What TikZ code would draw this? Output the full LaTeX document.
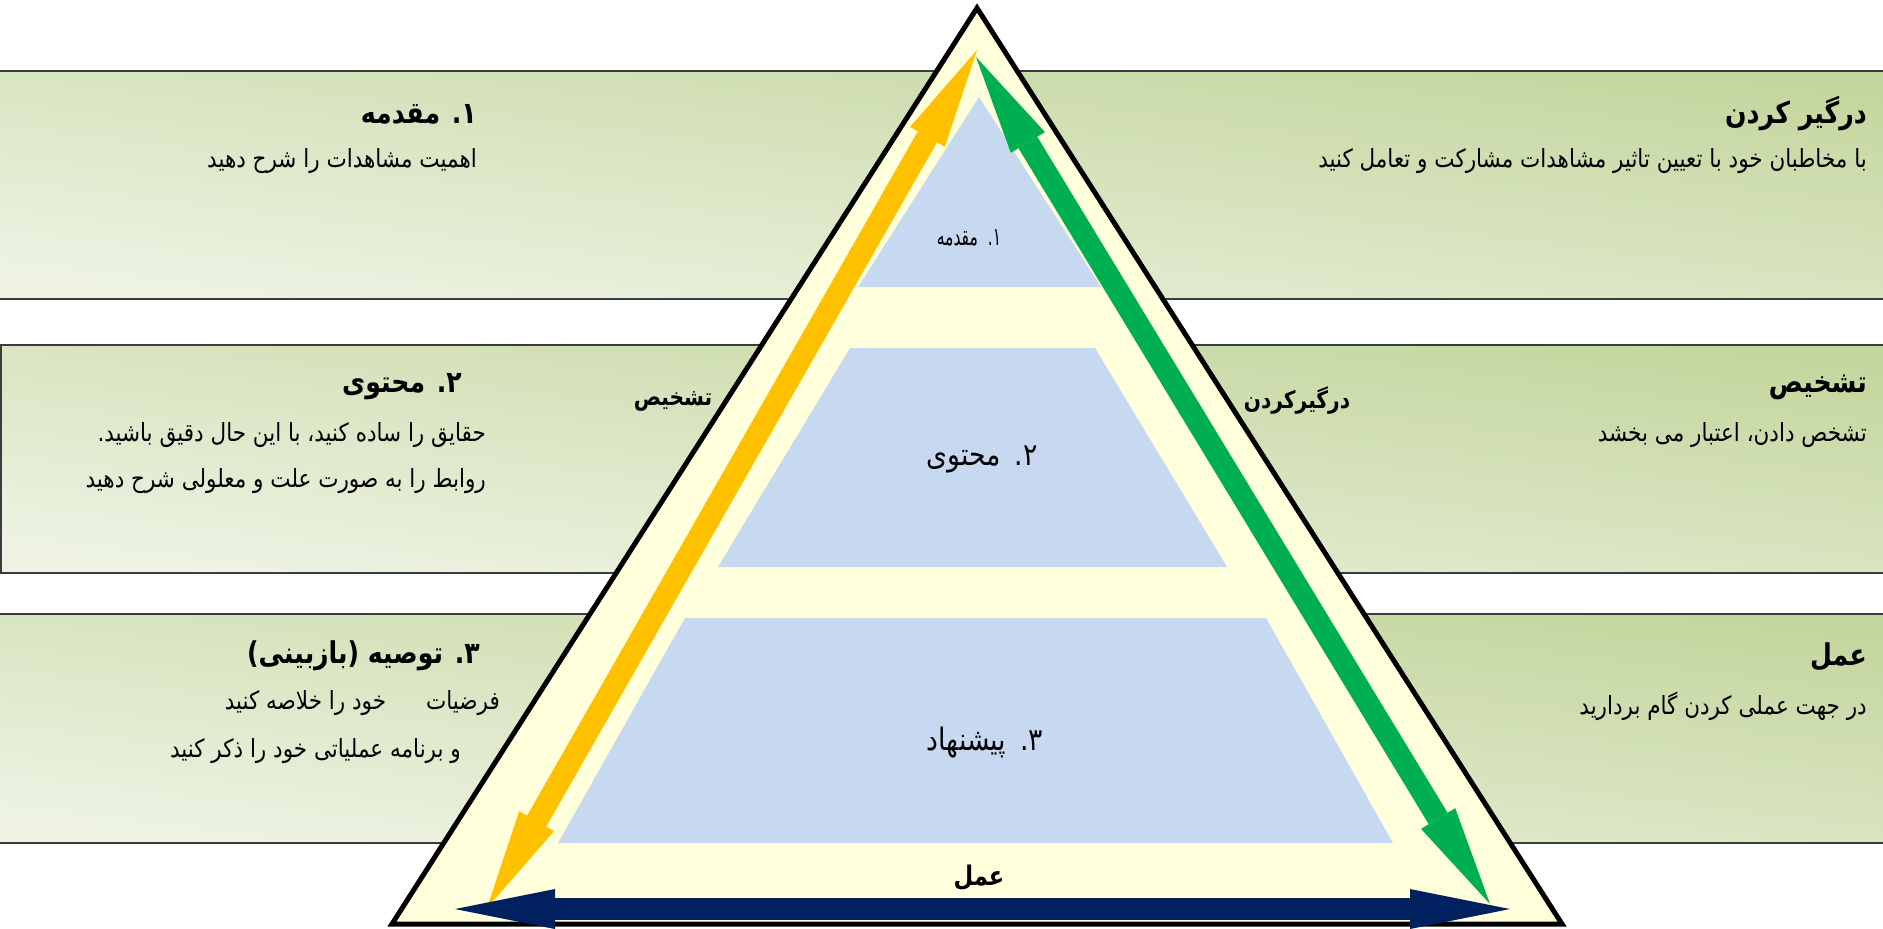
\documentclass[tikz,border=0pt]{standalone}
\usepackage{fontspec}
\usetikzlibrary{arrows.meta, positioning}
\TeXXeTstate=1
\newfontfamily\persianfont[Script=Arabic, FakeStretch=0.86]{DejaVu Sans}
\newfontfamily\persiantitle[Script=Arabic, FakeStretch=0.84]{DejaVu Sans Bold}
\newfontfamily\persiannarrow[Script=Arabic, FakeStretch=0.62]{DejaVu Sans}

\definecolor{rowdark}{RGB}{196,214,158}
\definecolor{rowlight}{RGB}{238,243,228}
\definecolor{rowline}{RGB}{60,60,60}
\definecolor{pyramidfill}{RGB}{255,255,220}
\definecolor{levelblue}{RGB}{198,217,240}
\definecolor{arrowyellow}{RGB}{255,192,0}
\definecolor{arrowgreen}{RGB}{0,176,80}
\definecolor{arrownavy}{RGB}{0,32,96}

\tikzstyle{band} = [draw=rowline, line width=1.5pt, top color=rowdark, bottom color=rowlight, shading angle=-7]
\tikzstyle{pyramid} = [draw=black, line width=5pt, fill=pyramidfill]
\tikzstyle{level} = [fill=levelblue]
\tikzstyle{title} = [anchor=east, inner sep=0pt, font=\persiantitle\fontsize{30}{34}\selectfont]
\tikzstyle{body} = [anchor=east, inner sep=0pt, font=\persianfont\fontsize{25}{29}\selectfont]
\tikzstyle{sidelabel} = [inner sep=0pt, font=\persiantitle\fontsize{24}{28}\selectfont]
\tikzstyle{levellabel} = [inner sep=0pt, font=\persianfont\fontsize{31}{35}\selectfont]
\tikzstyle{dblarrow} = [line width=22pt, <->, >={Triangle[length=100pt, width=40pt, line width=0pt]}]

\begin{document}
\begin{tikzpicture}[x=1pt, y=-1pt]
\useasboundingbox (0,0) rectangle (1883,929);

% Bands
\path[band] (-4,71) rectangle (1888,299);
\path[band] (1,345) rectangle (1888,573);
\path[band] (-4,614) rectangle (1888,843);

% Pyramid
\path[pyramid] (977,8) -- (1562,924) -- (392,924) -- cycle;

% Levels
\path[level] (979,97) -- (1101,287) -- (858,287) -- cycle;
\path[level] (850,348) -- (1095,348) -- (1227,567) -- (718,567) -- cycle;
\path[level] (685,618) -- (1266,618) -- (1393,843) -- (558,843) -- cycle;

% Arrow ends
\coordinate (ybot) at (487,908);
\coordinate (ytop) at (977,50);
\coordinate (gtop) at (976,57);
\coordinate (gbot) at (1490,904);
\coordinate (nleft) at (455,909);
\coordinate (nright) at (1510,909);

% Arrows
\draw [dblarrow, arrowyellow] (ybot) -- (ytop);
\draw [dblarrow, arrowgreen] (gtop) -- (gbot);
\draw [dblarrow, arrownavy] (nleft) -- (nright);

% Level labels
\node (lev1) [levellabel, font=\persiannarrow\fontsize{25}{29}\selectfont] at (969,238) {\beginR ۱.\hspace{10pt}مقدمه\endR};
\node (lev2) [levellabel] at (982,459) {\beginR ۲.\hspace{14pt}محتوی\endR};
\node (lev3) [levellabel] at (985,742) {\beginR ۳.\hspace{14pt}پیشنهاد\endR};
\node (act) [sidelabel, font=\persiantitle\fontsize{27}{31}\selectfont] at (979,878) {\beginR عمل\endR};

% Side labels
\node (diag) [sidelabel] at (673,401) {\beginR تشخیص\endR};
\node (engage) [sidelabel] at (1297,401) {\beginR درگیرکردن\endR};

% Left texts
\node (t1l) [title] at (477,114) {\beginR ۱. مقدمه\endR};
\node (b1l) [body, below=47pt of t1l.east, anchor=east] {\beginR اهمیت مشاهدات را شرح دهید\endR};

\node (t2l) [title] at (462,387) {\beginR ۲. محتوی\endR};
\node (b2l) [body, below=48pt of t2l.east, anchor=east, xshift=24pt] {\beginR حقایق را ساده کنید، با این حال دقیق باشید.\endR};
\node (c2l) [body, below=46pt of b2l.east, anchor=east] {\beginR روابط را به صورت علت و معلولی شرح دهید\endR};

\node (t3l) [title] at (480,656) {\beginR ۳. توصیه (بازبینی)\endR};
\node (b3l) [body, below=47pt of t3l.east, anchor=east, xshift=20pt] {\beginR فرضیات\hspace{40pt}خود را خلاصه کنید\endR};
\node (c3l) [body, below=48pt of b3l.east, anchor=east, xshift=-39pt] {\beginR و برنامه عملیاتی خود را ذکر کنید\endR};

% Right texts
\node (t1r) [title] at (1867,114) {\beginR درگیر کردن\endR};
\node (b1r) [body, below=47pt of t1r.east, anchor=east] {\beginR با مخاطبان خود با تعیین تاثیر مشاهدات مشارکت و تعامل کنید\endR};

\node (t2r) [title] at (1867,387) {\beginR تشخیص\endR};
\node (b2r) [body, below=48pt of t2r.east, anchor=east] {\beginR تشخص دادن، اعتبار می بخشد\endR};

\node (t3r) [title] at (1867,657) {\beginR عمل\endR};
\node (b3r) [body, below=49pt of t3r.east, anchor=east] {\beginR در جهت عملی کردن گام بردارید\endR};

\end{tikzpicture}
\end{document}
